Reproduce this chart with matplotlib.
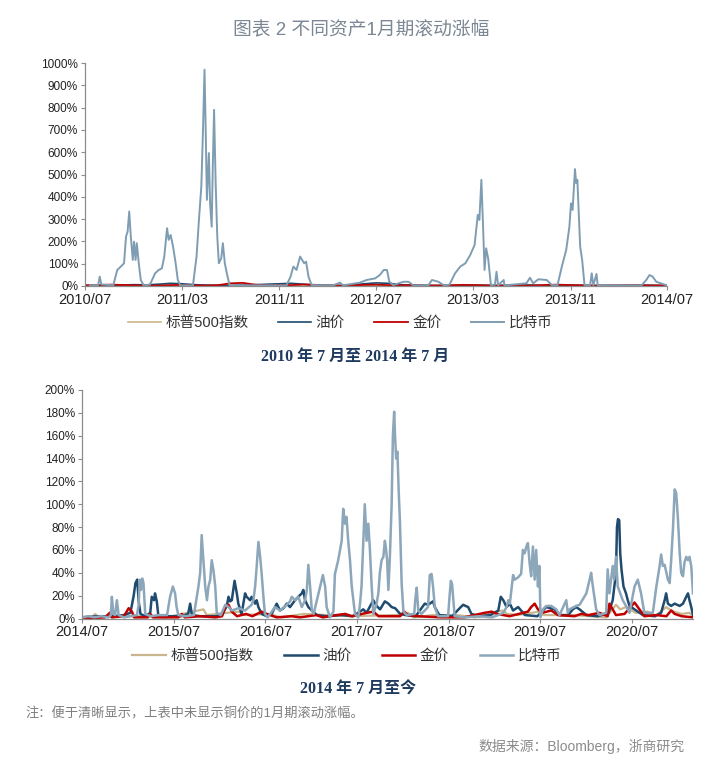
import matplotlib
matplotlib.use("Agg")
import matplotlib.pyplot as plt
import matplotlib.ticker as mticker
import pandas as pd

plt.rcParams['font.family'] = ['Liberation Sans', 'Noto Sans CJK SC', 'DejaVu Sans']

# ---------------- data: 2010/07 - 2014/07 ----------------
btc_top = [
    ("2010-07-13", 3), ("2010-08-03", 4), ("2010-08-07", 42), ("2010-08-11", 7), ("2010-09-10", 3),
    ("2010-09-20", 72), ("2010-09-29", 87), ("2010-10-07", 102), ("2010-10-12", 222), ("2010-10-16", 244),
    ("2010-10-20", 334), ("2010-10-24", 222), ("2010-10-29", 117), ("2010-11-01", 199), ("2010-11-05", 117),
    ("2010-11-08", 192), ("2010-11-13", 102), ("2010-11-18", 27), ("2010-11-25", 3), ("2010-12-11", 6),
    ("2010-12-18", 34), ("2010-12-24", 57), ("2011-01-02", 72), ("2011-01-10", 79), ("2011-01-16", 132),
    ("2011-01-23", 259), ("2011-01-27", 207), ("2011-02-01", 229), ("2011-02-07", 177), ("2011-02-13", 109),
    ("2011-02-19", 27), ("2011-02-25", 3), ("2011-03-29", 3), ("2011-04-07", 132), ("2011-04-13", 296),
    ("2011-04-19", 446), ("2011-04-23", 686), ("2011-04-27", 970), ("2011-04-30", 700), ("2011-05-03", 386),
    ("2011-05-08", 596), ("2011-05-11", 371), ("2011-05-15", 266), ("2011-05-18", 551), ("2011-05-21", 790),
    ("2011-05-25", 461), ("2011-05-29", 222), ("2011-06-02", 102), ("2011-06-08", 124), ("2011-06-12", 192),
    ("2011-06-17", 102), ("2011-06-22", 57), ("2011-06-29", 3), ("2011-11-19", 3), ("2011-11-29", 42),
    ("2011-12-06", 87), ("2011-12-14", 72), ("2011-12-23", 132), ("2011-12-27", 120), ("2012-01-02", 102),
    ("2012-01-07", 109), ("2012-01-13", 42), ("2012-01-21", 4), ("2012-03-15", 3), ("2012-04-01", 15),
    ("2012-04-09", 3), ("2012-05-21", 15), ("2012-06-07", 27), ("2012-06-28", 34), ("2012-07-10", 49),
    ("2012-07-20", 72), ("2012-07-28", 72), ("2012-08-03", 19), ("2012-08-13", 4), ("2012-09-07", 19),
    ("2012-09-20", 19), ("2012-10-02", 3), ("2012-11-09", 3), ("2012-11-18", 27), ("2012-12-04", 19),
    ("2012-12-18", 3), ("2013-01-01", 6), ("2013-01-15", 57), ("2013-01-28", 87), ("2013-02-10", 102),
    ("2013-02-22", 139), ("2013-03-05", 184), ("2013-03-13", 319), ("2013-03-17", 296), ("2013-03-22", 476),
    ("2013-03-26", 281), ("2013-03-30", 72), ("2013-04-03", 169), ("2013-04-08", 124), ("2013-04-15", 4),
    ("2013-04-25", 6), ("2013-04-29", 64), ("2013-05-03", 3), ("2013-05-17", 27), ("2013-05-19", 3),
    ("2013-07-13", 12), ("2013-07-22", 37), ("2013-07-30", 12), ("2013-08-12", 30), ("2013-09-02", 27),
    ("2013-09-15", 4), ("2013-09-29", 3), ("2013-10-10", 87), ("2013-10-21", 162), ("2013-10-29", 266),
    ("2013-11-02", 371), ("2013-11-06", 341), ("2013-11-12", 524), ("2013-11-15", 461), ("2013-11-18", 476),
    ("2013-11-22", 311), ("2013-11-25", 177), ("2013-11-30", 117), ("2013-12-06", 3), ("2013-12-20", 3),
    ("2013-12-24", 57), ("2013-12-28", 3), ("2014-01-05", 54), ("2014-01-08", 3), ("2014-03-04", 3),
    ("2014-04-28", 3), ("2014-05-10", 27), ("2014-05-18", 49), ("2014-05-26", 42), ("2014-06-04", 19),
    ("2014-06-16", 12), ("2014-06-29", 4),
]
top_months = pd.date_range("2010-07-01", "2014-07-01", freq="MS")
spx_top = [2, 4, 3, 4, 2, 3, 2, 3, 2, 3, 2, 1, 3, 4, 5, 3, 2, 1, 4, 3, 2, 1, 3, 4, 2,
           3, 2, 3, 1, 2, 3, 2, 3, 2, 1, 2, 3, 2, 1, 2, 3, 2, 1, 2, 3, 2, 1, 2, 2]
oil_top = [2, 3, 2, 4, 6, 5, 8, 12, 10, 6, 4, 3, 2, 4, 6, 8, 10, 12, 8, 4, 3, 2, 5, 10, 14,
           12, 6, 4, 3, 2, 2, 3, 4, 3, 2, 3, 5, 4, 2, 3, 4, 3, 2, 3, 2, 3, 4, 3, 2]
gold_top = [3, 4, 6, 5, 3, 2, 2, 4, 5, 3, 2, 4, 12, 14, 6, 3, 5, 4, 7, 5, 3, 2, 3, 5, 6,
            4, 3, 4, 2, 2, 3, 5, 4, 3, 2, 3, 2, 2, 5, 6, 4, 3, 2, 2, 3, 4, 3, 2, 3]
top_ticks = ["2010-07", "2011-03", "2011-11", "2012-07", "2013-03", "2013-11", "2014-07"]

# ---------------- data: 2014/07 - now ----------------
btc_bot = [
    ("2014-07-01", 1), ("2014-07-25", 2), ("2014-08-20", 1), ("2014-09-15", 2), ("2014-10-15", 1),
    ("2014-10-24", 3), ("2014-10-28", 19), ("2014-11-03", 4), ("2014-11-10", 3), ("2014-11-17", 16),
    ("2014-11-24", 3), ("2014-12-15", 1), ("2015-01-10", 2), ("2015-02-05", 3), ("2015-02-12", 12),
    ("2015-02-16", 34), ("2015-02-21", 25), ("2015-02-26", 35), ("2015-03-03", 31), ("2015-03-10", 4),
    ("2015-04-01", 2), ("2015-05-01", 3), ("2015-06-05", 3), ("2015-06-12", 12), ("2015-06-17", 19),
    ("2015-06-28", 28), ("2015-07-07", 22), ("2015-07-13", 10), ("2015-07-20", 3), ("2015-08-20", 2),
    ("2015-09-20", 3), ("2015-09-25", 10), ("2015-10-08", 28), ("2015-10-15", 40), ("2015-10-21", 73),
    ("2015-10-28", 51), ("2015-11-04", 28), ("2015-11-11", 16), ("2015-11-17", 28), ("2015-11-24", 34),
    ("2015-11-30", 51), ("2015-12-07", 42), ("2015-12-14", 28), ("2015-12-20", 5), ("2016-01-05", 3),
    ("2016-01-23", 12), ("2016-02-05", 10), ("2016-02-18", 7), ("2016-03-15", 9), ("2016-04-11", 7),
    ("2016-05-07", 12), ("2016-05-14", 16), ("2016-05-21", 28), ("2016-05-27", 45), ("2016-06-03", 67),
    ("2016-06-10", 54), ("2016-06-16", 39), ("2016-06-23", 19), ("2016-06-29", 4), ("2016-07-10", 1),
    ("2016-08-08", 10), ("2016-08-28", 7), ("2016-09-24", 12), ("2016-10-07", 15), ("2016-10-14", 19),
    ("2016-10-27", 16), ("2016-11-09", 19), ("2016-11-23", 10), ("2016-12-06", 16), ("2016-12-13", 25),
    ("2016-12-19", 47), ("2016-12-26", 28), ("2017-01-02", 7), ("2017-01-09", 4), ("2017-01-22", 16),
    ("2017-02-04", 28), ("2017-02-15", 38), ("2017-02-24", 28), ("2017-03-02", 10), ("2017-03-15", 1),
    ("2017-03-29", 6), ("2017-04-04", 39), ("2017-04-17", 51), ("2017-05-01", 68), ("2017-05-07", 96),
    ("2017-05-14", 83), ("2017-05-20", 89), ("2017-05-27", 68), ("2017-06-03", 51), ("2017-06-10", 28),
    ("2017-06-23", 4), ("2017-07-06", 1), ("2017-07-13", 13), ("2017-07-19", 28), ("2017-07-26", 68),
    ("2017-08-01", 100), ("2017-08-08", 68), ("2017-08-15", 83), ("2017-08-21", 62), ("2017-08-28", 30),
    ("2017-09-04", 4), ("2017-09-17", 13), ("2017-09-24", 22), ("2017-09-30", 40), ("2017-10-07", 51),
    ("2017-10-14", 54), ("2017-10-20", 68), ("2017-10-24", 62), ("2017-10-29", 51), ("2017-11-03", 25),
    ("2017-11-09", 54), ("2017-11-16", 100), ("2017-11-21", 160), ("2017-11-26", 181), ("2017-11-30", 158),
    ("2017-12-04", 140), ("2017-12-09", 146), ("2017-12-14", 112), ("2017-12-19", 85), ("2017-12-26", 30),
    ("2018-01-02", 6), ("2018-01-15", 3), ("2018-02-14", 4), ("2018-02-18", 16), ("2018-02-24", 27),
    ("2018-03-02", 7), ("2018-03-15", 4), ("2018-04-10", 10), ("2018-04-17", 38), ("2018-04-24", 39),
    ("2018-04-30", 28), ("2018-05-07", 10), ("2018-05-20", 2), ("2018-06-29", 2), ("2018-07-05", 20),
    ("2018-07-10", 33), ("2018-07-15", 30), ("2018-07-20", 16), ("2018-07-25", 2), ("2018-09-01", 1),
    ("2018-11-01", 2), ("2018-12-20", 1), ("2019-01-15", 3), ("2019-02-04", 5), ("2019-02-17", 10),
    ("2019-02-24", 16), ("2019-03-02", 13), ("2019-03-15", 38), ("2019-03-21", 34), ("2019-04-04", 36),
    ("2019-04-16", 39), ("2019-04-23", 60), ("2019-04-30", 57), ("2019-05-07", 63), ("2019-05-13", 66),
    ("2019-05-20", 48), ("2019-05-26", 37), ("2019-06-02", 63), ("2019-06-09", 34), ("2019-06-15", 60),
    ("2019-06-22", 28), ("2019-06-28", 46), ("2019-07-02", 1), ("2019-07-12", 8), ("2019-07-25", 11),
    ("2019-08-14", 11), ("2019-09-03", 8), ("2019-09-16", 3), ("2019-10-13", 16), ("2019-10-19", 5),
    ("2019-10-26", 8), ("2019-11-21", 11), ("2019-12-05", 12), ("2020-01-01", 22), ("2020-01-14", 34),
    ("2020-01-20", 40), ("2020-01-27", 28), ("2020-02-09", 8), ("2020-02-22", 3), ("2020-03-20", 5),
    ("2020-03-26", 43), ("2020-04-02", 22), ("2020-04-15", 46), ("2020-04-21", 34), ("2020-04-28", 54),
    ("2020-05-05", 28), ("2020-05-25", 16), ("2020-06-07", 11), ("2020-06-21", 5), ("2020-07-11", 28),
    ("2020-07-24", 34), ("2020-08-06", 22), ("2020-08-19", 5), ("2020-09-22", 5), ("2020-10-06", 28),
    ("2020-10-19", 46), ("2020-10-25", 56), ("2020-11-01", 46), ("2020-11-08", 47), ("2020-11-21", 34),
    ("2020-11-28", 31), ("2020-12-04", 51), ("2020-12-11", 78), ("2020-12-18", 113), ("2020-12-24", 110),
    ("2020-12-31", 87), ("2021-01-07", 57), ("2021-01-13", 40), ("2021-01-20", 37), ("2021-01-26", 49),
    ("2021-02-02", 54), ("2021-02-09", 51), ("2021-02-15", 54), ("2021-02-22", 46), ("2021-03-01", 22),
]
oil_bot = [
    ("2014-07-01", 1), ("2014-09-01", 2), ("2014-11-01", 2), ("2014-12-15", 3), ("2015-01-10", 5),
    ("2015-01-23", 20), ("2015-01-30", 31), ("2015-02-06", 34), ("2015-02-12", 15), ("2015-02-19", 4),
    ("2015-03-10", 2), ("2015-03-30", 5), ("2015-04-05", 19), ("2015-04-14", 16), ("2015-04-18", 22),
    ("2015-04-25", 15), ("2015-05-01", 3), ("2015-06-01", 2), ("2015-08-01", 2), ("2015-08-28", 4),
    ("2015-09-05", 13), ("2015-09-12", 3), ("2015-10-15", 2), ("2015-12-15", 2), ("2016-01-10", 3),
    ("2016-01-29", 11), ("2016-02-05", 19), ("2016-02-11", 15), ("2016-02-18", 16), ("2016-02-29", 33),
    ("2016-03-09", 22), ("2016-03-15", 13), ("2016-03-28", 4), ("2016-04-11", 22), ("2016-04-17", 19),
    ("2016-05-01", 16), ("2016-05-07", 19), ("2016-05-21", 13), ("2016-05-27", 16), ("2016-06-03", 10),
    ("2016-06-16", 4), ("2016-07-06", 2), ("2016-07-26", 4), ("2016-08-08", 10), ("2016-08-15", 13),
    ("2016-08-28", 7), ("2016-09-11", 9), ("2016-09-24", 13), ("2016-10-07", 10), ("2016-10-27", 16),
    ("2016-11-09", 19), ("2016-11-23", 22), ("2016-11-29", 25), ("2016-12-06", 16), ("2016-12-19", 10),
    ("2017-01-02", 7), ("2017-01-22", 3), ("2017-03-01", 2), ("2017-05-01", 3), ("2017-06-15", 2),
    ("2017-07-26", 8), ("2017-08-08", 5), ("2017-09-04", 16), ("2017-09-17", 11), ("2017-10-01", 8),
    ("2017-10-20", 15), ("2017-11-03", 13), ("2017-11-16", 10), ("2017-11-30", 9), ("2017-12-20", 4),
    ("2018-01-10", 3), ("2018-02-20", 2), ("2018-03-15", 9), ("2018-03-28", 13), ("2018-04-10", 12),
    ("2018-04-30", 15), ("2018-05-07", 10), ("2018-05-25", 3), ("2018-07-15", 2), ("2018-08-14", 9),
    ("2018-08-28", 12), ("2018-09-17", 10), ("2018-09-30", 4), ("2018-11-01", 2), ("2018-12-15", 3),
    ("2019-01-15", 7), ("2019-01-25", 19), ("2019-02-04", 16), ("2019-02-17", 10), ("2019-03-02", 13),
    ("2019-03-15", 7), ("2019-04-04", 10), ("2019-04-16", 7), ("2019-05-01", 3), ("2019-06-20", 2),
    ("2019-07-25", 10), ("2019-08-27", 8), ("2019-09-16", 3), ("2019-10-20", 3), ("2019-11-08", 8),
    ("2019-11-21", 10), ("2019-12-05", 8), ("2020-01-01", 3), ("2020-02-15", 2), ("2020-03-30", 5),
    ("2020-04-15", 16), ("2020-04-28", 40), ("2020-05-02", 80), ("2020-05-06", 87), ("2020-05-11", 86),
    ("2020-05-15", 57), ("2020-05-20", 43), ("2020-05-28", 28), ("2020-06-07", 22), ("2020-06-14", 16),
    ("2020-06-21", 11), ("2020-07-11", 8), ("2020-07-31", 5), ("2020-08-13", 3), ("2020-09-30", 2),
    ("2020-10-25", 5), ("2020-11-08", 16), ("2020-11-14", 22), ("2020-11-21", 13), ("2020-12-04", 11),
    ("2020-12-18", 13), ("2021-01-07", 11), ("2021-01-20", 13), ("2021-02-02", 19), ("2021-02-09", 22),
    ("2021-02-15", 16), ("2021-02-22", 10), ("2021-03-01", 3),
]
gold_bot = [
    ("2014-07-01", 1), ("2014-08-15", 0.5), ("2014-10-01", 1), ("2014-10-20", 5), ("2014-10-28", 1),
    ("2014-12-15", 2), ("2015-01-03", 9), ("2015-01-16", 6), ("2015-01-25", 1), ("2015-03-20", 1),
    ("2015-03-30", 4), ("2015-04-10", 1), ("2015-06-01", 1), ("2015-07-20", 1), ("2015-08-03", 4),
    ("2015-08-15", 1), ("2015-10-15", 2), ("2015-12-15", 1), ("2016-01-10", 2), ("2016-01-23", 10),
    ("2016-02-05", 12), ("2016-02-18", 6), ("2016-03-10", 2), ("2016-04-15", 4), ("2016-05-10", 2),
    ("2016-06-16", 6), ("2016-07-06", 4), ("2016-08-15", 1), ("2016-10-14", 2), ("2016-11-15", 1),
    ("2017-01-20", 3), ("2017-02-15", 1), ("2017-04-10", 3), ("2017-05-15", 4), ("2017-06-10", 2),
    ("2017-08-10", 5), ("2017-09-04", 6), ("2017-09-25", 2), ("2017-12-20", 2), ("2018-01-05", 6),
    ("2018-01-20", 3), ("2018-03-01", 2), ("2018-06-01", 1), ("2018-09-01", 1), ("2018-11-22", 5),
    ("2018-12-20", 6), ("2019-01-10", 4), ("2019-03-01", 2), ("2019-05-13", 6), ("2019-05-26", 10),
    ("2019-06-09", 13), ("2019-06-22", 8), ("2019-07-10", 5), ("2019-08-14", 7), ("2019-09-10", 3),
    ("2019-11-15", 2), ("2019-12-11", 4), ("2020-01-10", 3), ("2020-02-22", 5), ("2020-03-26", 2),
    ("2020-04-02", 13), ("2020-04-15", 8), ("2020-04-28", 3), ("2020-06-01", 4), ("2020-07-11", 14),
    ("2020-07-24", 10), ("2020-08-06", 6), ("2020-08-19", 2), ("2020-10-06", 3), ("2020-11-15", 2),
    ("2020-12-04", 7), ("2020-12-18", 4), ("2021-01-15", 2), ("2021-03-01", 1),
]
spx_bot = [
    ("2014-07-01", 1), ("2014-08-10", 1), ("2014-08-23", 4), ("2014-09-05", 1), ("2014-10-28", 3),
    ("2014-11-15", 2), ("2015-03-01", 2), ("2015-06-01", 1), ("2015-10-28", 8), ("2015-11-10", 3),
    ("2016-03-15", 6), ("2016-04-10", 3), ("2016-07-15", 4), ("2016-09-01", 1), ("2016-12-01", 4),
    ("2017-03-01", 3), ("2017-06-01", 2), ("2017-12-01", 3), ("2018-01-20", 5), ("2018-02-10", 1),
    ("2018-05-01", 3), ("2018-08-01", 3), ("2018-10-15", 1), ("2019-01-31", 7), ("2019-02-20", 4),
    ("2019-03-30", 3), ("2019-06-28", 6), ("2019-07-15", 3), ("2019-11-15", 3), ("2020-01-15", 2),
    ("2020-03-20", 1), ("2020-04-28", 12), ("2020-05-15", 8), ("2020-06-07", 10), ("2020-07-15", 5),
    ("2020-09-01", 6), ("2020-10-01", 2), ("2020-11-14", 10), ("2020-11-28", 8), ("2020-12-15", 6),
    ("2021-01-15", 4), ("2021-02-15", 5), ("2021-03-01", 2),
]
bot_ticks = ["2014-07", "2015-07", "2016-07", "2017-07", "2018-07", "2019-07", "2020-07"]

labels = ["标普500指数", "油价", "金价", "比特币"]
colors = ["#C9B68E", "#1F4B6E", "#C00000", "#8CA6BA"]


def split(pairs):
    return pd.to_datetime([p[0] for p in pairs]), [p[1] for p in pairs]


W, H = 720, 767
fig = plt.figure(figsize=(W / 100, H / 100), dpi=100)


def style_axes(ax, ymax, ystep, ticks, xmin, xmax):
    for s in ["top", "right"]:
        ax.spines[s].set_visible(False)
    for s in ["left", "bottom"]:
        ax.spines[s].set_color("#8C8C8C")
        ax.spines[s].set_linewidth(0.9)
    ax.set_ylim(0, ymax)
    ax.set_yticks(range(0, ymax + 1, ystep))
    ax.yaxis.set_major_formatter(mticker.FuncFormatter(lambda v, p: "%d%%" % v))
    tk = pd.to_datetime(ticks)
    ax.set_xticks(tk)
    ax.set_xticklabels([t.strftime("%Y/%m") for t in tk])
    ax.set_xlim(pd.Timestamp(xmin), pd.Timestamp(xmax))
    ax.tick_params(axis="y", labelsize=8.5, length=3, color="#8C8C8C", labelcolor="#222222", pad=2)
    ax.tick_params(axis="x", labelsize=10.5, length=3, color="#8C8C8C", labelcolor="#222222", pad=2)


# ---------------- top panel ----------------
ax1 = fig.add_axes([85 / W, 1 - 286 / H, 582 / W, 223 / H])
ax1.plot(top_months, spx_top, color=colors[0], lw=1.2, label=labels[0])
ax1.plot(top_months, oil_top, color=colors[1], lw=1.2, label=labels[1])
ax1.plot(top_months, gold_top, color=colors[2], lw=1.3, label=labels[2])
d, v = split(btc_top)
ax1.plot(d, v, color="#7F9DB2", lw=1.4, label=labels[3])
style_axes(ax1, 1000, 100, top_ticks, "2010-07-01", "2014-07-01")
ax1.legend(loc="center", bbox_to_anchor=(340 / W, 1 - 323 / H), bbox_transform=fig.transFigure,
           ncol=4, frameon=False, fontsize=10.5, handlelength=2.3, handletextpad=0.3,
           columnspacing=2.0, labelcolor="#333333")

# ---------------- bottom panel ----------------
ax2 = fig.add_axes([82 / W, 1 - 618.5 / H, 611 / W, 228.5 / H])
for pairs, c, lab, lw in [(spx_bot, colors[0], labels[0], 1.6), (oil_bot, colors[1], labels[1], 1.8),
                          (gold_bot, colors[2], labels[2], 1.8), (btc_bot, colors[3], labels[3], 1.8)]:
    d, v = split(pairs)
    ax2.plot(d, v, color=c, lw=lw, label=lab)
style_axes(ax2, 200, 20, bot_ticks, "2014-07-01", "2021-03-01")
ax2.legend(loc="center", bbox_to_anchor=(347 / W, 1 - 656 / H), bbox_transform=fig.transFigure,
           ncol=4, frameon=False, fontsize=10.5, handlelength=2.3, handletextpad=0.3,
           columnspacing=2.1, labelcolor="#333333")

# ---------------- texts ----------------
fig.text(361 / W, 1 - 29 / H, "图表 2 不同资产1月期滚动涨幅", ha="center", va="center",
         fontsize=13.5, color="#7B8794")
sub_font = ["Liberation Serif", "Noto Sans CJK SC"]
fig.text(355 / W, 1 - 357 / H, "2010 年 7 月至 2014 年 7 月", ha="center", va="center",
         fontsize=11.5, fontweight="bold", color="#1F3A5F", family=sub_font)
fig.text(358 / W, 1 - 690 / H, "2014 年 7 月至今", ha="center", va="center",
         fontsize=11.5, fontweight="bold", color="#1F3A5F", family=sub_font)
fig.text(25 / W, 1 - 714 / H, "注：便于清晰显示，上表中未显示铜价的1月期滚动涨幅。", ha="left", va="center",
         fontsize=9.5, color="#7F7F7F")
fig.text(478 / W, 1 - 747 / H, "数据来源：Bloomberg，浙商研究", ha="left", va="center",
         fontsize=10, color="#8C8C8C")

fig.savefig("out.png", dpi=100)
